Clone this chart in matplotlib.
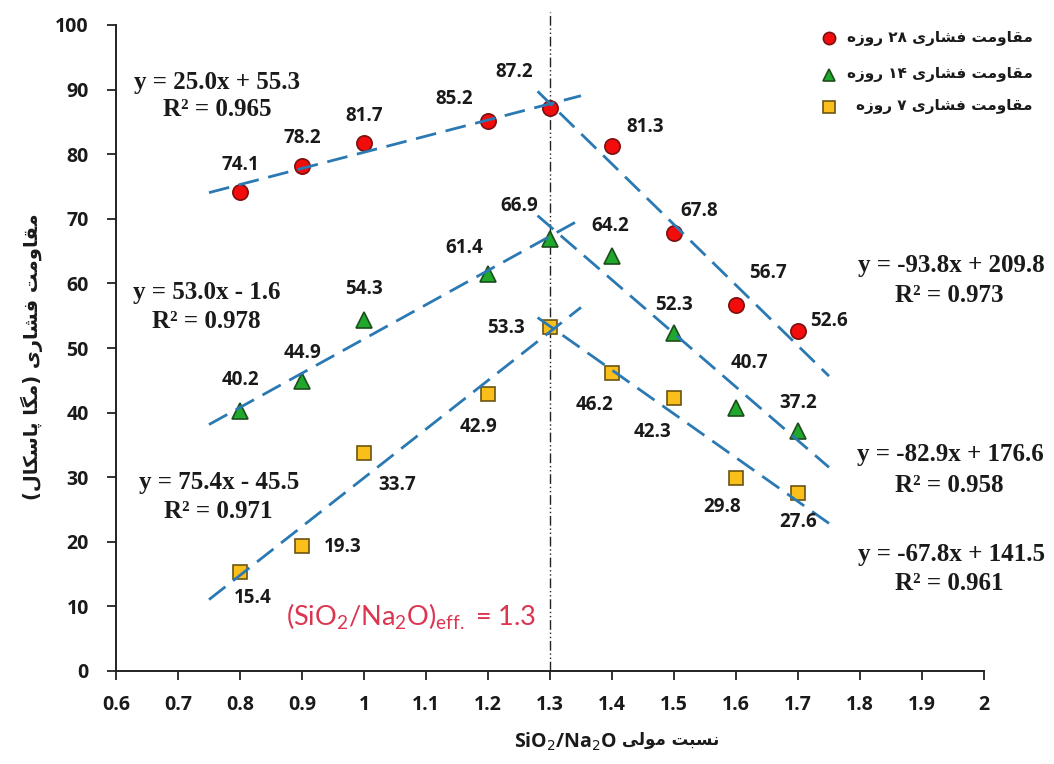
import matplotlib
matplotlib.use("Agg")
import matplotlib.pyplot as plt
from matplotlib.lines import Line2D
import numpy as np

# ---------------------------------------------------------------- data
ratio = [0.8, 0.9, 1.0, 1.2, 1.3, 1.4, 1.5, 1.6, 1.7]
strength_28 = [74.1, 78.2, 81.7, 85.2, 87.2, 81.3, 67.8, 56.7, 52.6]
strength_14 = [40.2, 44.9, 54.3, 61.4, 66.9, 64.2, 52.3, 40.7, 37.2]
strength_7 = [15.4, 19.3, 33.7, 42.9, 53.3, 46.2, 42.3, 29.8, 27.6]

# linear fits: (slope, intercept, R^2) for the rising and falling branches
rise_fit_28 = (25.0, 55.3, 0.965)
fall_fit_28 = (-93.8, 209.8, 0.973)
rise_fit_14 = (53.0, -1.6, 0.978)
fall_fit_14 = (-82.9, 176.6, 0.958)
rise_fit_7 = (75.4, -45.5, 0.971)
fall_fit_7 = (-67.8, 141.5, 0.961)
rise_span = (0.75, 1.35)
fall_span = (1.28, 1.75)
optimum_ratio = 1.3

legend_labels = ["مقاومت فشاری ۲۸ روزه", "مقاومت فشاری ۱۴ روزه", "مقاومت فشاری ۷ روزه"]
y_title = "مقاومت فشاری (مگا پاسکال)"
x_title_fa = "نسبت مولی"
x_title_en = "SiO$_2$/Na$_2$O"
x_ticks = [0.6, 0.7, 0.8, 0.9, 1.0, 1.1, 1.2, 1.3, 1.4, 1.5, 1.6, 1.7, 1.8, 1.9, 2.0]
x_tick_labels = ["0.6", "0.7", "0.8", "0.9", "1", "1.1", "1.2", "1.3", "1.4",
                 "1.5", "1.6", "1.7", "1.8", "1.9", "2"]
y_ticks = [0, 10, 20, 30, 40, 50, 60, 70, 80, 90, 100]

# value-label offsets (pixels) from each point
offsets_28 = [(0, 27), (0, 28), (0, 27), (-34, 22), (-36, 36), (33, 19), (25, 22), (32, 32), (31, 10)]
offsets_14 = [(0, 31), (0, 28), (0, 31), (-24, 26), (-31, 33), (-2, 30), (0, 28), (13, 45), (0, 28)]
offsets_7 = [(13, -26), (41, -1), (33, -32), (-9, -33), (-44, -1), (-18, -32), (-21, -34), (-14, -29), (0, -29)]

# ------------------------------------------------ Persian text shaping
_FORMS = {
    'ا': ('\uFE8D', '\uFE8E', None, None),
    'ب': ('\uFE8F', '\uFE90', '\uFE91', '\uFE92'),
    'پ': ('\uFB56', '\uFB57', '\uFB58', '\uFB59'),
    'ت': ('\uFE95', '\uFE96', '\uFE97', '\uFE98'),
    'ر': ('\uFEAD', '\uFEAE', None, None),
    'ز': ('\uFEAF', '\uFEB0', None, None),
    'س': ('\uFEB1', '\uFEB2', '\uFEB3', '\uFEB4'),
    'ش': ('\uFEB5', '\uFEB6', '\uFEB7', '\uFEB8'),
    'ف': ('\uFED1', '\uFED2', '\uFED3', '\uFED4'),
    'ق': ('\uFED5', '\uFED6', '\uFED7', '\uFED8'),
    'ک': ('\uFB8E', '\uFB8F', '\uFB90', '\uFB91'),
    'گ': ('\uFB92', '\uFB93', '\uFB94', '\uFB95'),
    'ل': ('\uFEDD', '\uFEDE', '\uFEDF', '\uFEE0'),
    'م': ('\uFEE1', '\uFEE2', '\uFEE3', '\uFEE4'),
    'ن': ('\uFEE5', '\uFEE6', '\uFEE7', '\uFEE8'),
    'و': ('\uFEED', '\uFEEE', None, None),
    'ه': ('\uFEE9', '\uFEEA', '\uFEEB', '\uFEEC'),
    'ی': ('\uFBFC', '\uFBFD', '\uFBFE', '\uFBFF'),
}
_MIRROR = {'(': ')', ')': '('}


def _dual(c):
    return c in _FORMS and _FORMS[c][2] is not None


def _is_ltr(c):
    return (c.isascii() and (c.isalnum() or c in "./")) or ('\u06F0' <= c <= '\u06F9')


def rtl(text):
    shaped = []
    for i, c in enumerate(text):
        if c not in _FORMS:
            shaped.append(c)
            continue
        prev = text[i - 1] if i > 0 else ''
        nxt = text[i + 1] if i + 1 < len(text) else ''
        jp = _dual(prev)
        jn = _dual(c) and nxt in _FORMS
        iso, fin, ini, med = _FORMS[c]
        shaped.append(med if (jp and jn) else fin if jp else ini if jn else iso)
    tokens, buf = [], ''
    for c in shaped:
        if _is_ltr(c):
            buf += c
        else:
            if buf:
                tokens.append(buf)
                buf = ''
            tokens.append(_MIRROR.get(c, c))
    if buf:
        tokens.append(buf)
    return ''.join(reversed(tokens))


# ---------------------------------------------------------------- style
W, H = 1054, 764
FA_FONT = ['DejaVu Sans']
NUM_FONT = ['Open Sans', 'DejaVu Sans']
EQ_FONT = ['Liberation Serif', 'DejaVu Serif']
TREND = '#2b79b3'
TEXT = '#1a1a1a'

series = [
    (strength_28, offsets_28, rise_fit_28, fall_fit_28,
     dict(marker='o', markersize=11, markerfacecolor='#f20c0c', markeredgecolor='#7a1010')),
    (strength_14, offsets_14, rise_fit_14, fall_fit_14,
     dict(marker='^', markersize=11.5, markerfacecolor='#1fa82b', markeredgecolor='#1d4d1d')),
    (strength_7, offsets_7, rise_fit_7, fall_fit_7,
     dict(marker='s', markersize=10.5, markerfacecolor='#fbbf1c', markeredgecolor='#6b5512')),
]


def fig_xy(px, py):
    return px / W, 1 - py / H


fig = plt.figure(figsize=(W / 100, H / 100), dpi=100)
ax = fig.add_axes([116 / W, (H - 671) / H, 868 / W, 646 / H])
ax.set_xlim(0.6, 2.0)
ax.set_ylim(0, 100)

for spine in ('top', 'right'):
    ax.spines[spine].set_visible(False)
for spine in ('left', 'bottom'):
    ax.spines[spine].set_linewidth(1.4)
    ax.spines[spine].set_color('#222222')

ax.set_xticks(x_ticks)
ax.set_xticklabels(x_tick_labels)
ax.set_yticks(y_ticks)
ax.tick_params(axis='both', direction='out', length=6.5, width=1.3, color='#222222',
               labelsize=14, labelcolor=TEXT)
ax.tick_params(axis='x', pad=11)
ax.tick_params(axis='y', pad=13)
for lab in ax.get_xticklabels() + ax.get_yticklabels():
    lab.set_fontfamily(NUM_FONT)
    lab.set_fontweight('bold')

# optimum ratio marker line
ax.plot([optimum_ratio, optimum_ratio], [0, 102], color='#222222', lw=1.0,
        linestyle=(0, (7, 2, 1, 2, 1, 2)), clip_on=False, zorder=2)

for values, offs, rise, fall, mstyle in series:
    ax.plot(ratio, values, linestyle='none', zorder=3, markeredgewidth=1.2, **mstyle)
    for x, v, (dx, dy) in zip(ratio, values, offs):
        ax.annotate(f"{v:.1f}", (x, v), xytext=(dx, dy), textcoords='offset pixels',
                    ha='center', va='center', fontsize=13.5, fontweight='bold',
                    family=NUM_FONT, color=TEXT, zorder=5)
    for (slope, icpt, _), span in ((rise, rise_span), (fall, fall_span)):
        xs = np.array(span)
        ax.plot(xs, slope * xs + icpt, color=TREND, lw=2.0,
                linestyle=(0, (7.5, 3.5)), zorder=4, solid_capstyle='butt')


def eq_text(slope, icpt):
    sign = '+' if icpt >= 0 else '-'
    return f"y = {slope:.1f}x {sign} {abs(icpt):.1f}"


equation_places = [
    (rise_fit_28, (217, 82), (217, 110)),
    (rise_fit_14, (207, 293), (206, 322)),
    (rise_fit_7, (219, 483), (218, 512)),
    (fall_fit_28, (951, 265), (949, 295)),
    (fall_fit_14, (950, 455), (949, 485)),
    (fall_fit_7, (951, 555), (949, 583)),
]
for (slope, icpt, r2), p_eq, p_r2 in equation_places:
    fig.text(*fig_xy(*p_eq), eq_text(slope, icpt), ha='center', va='center',
             fontsize=18, fontweight='bold', family=EQ_FONT, color=TEXT)
    fig.text(*fig_xy(*p_r2), f"R² = {r2:.3f}", ha='center', va='center',
             fontsize=18, fontweight='bold', family=EQ_FONT, color=TEXT)

# effective ratio note
fig.text(*fig_xy(411, 617),
         r"(SiO$_{\mathregular{2}}$/Na$_{\mathregular{2}}$O)$_{\mathregular{eff.}}$ = " + f"{optimum_ratio}",
         ha='center', va='center', fontsize=19.5, family=['Lato', 'DejaVu Sans'], color='#dc3550')

# legend (markers on the left, right-aligned Persian labels)
legend_rows = [38, 75, 107]
for (values, offs, rise, fall, mstyle), label, row in zip(series, legend_labels, legend_rows):
    fx, fy = fig_xy(829, row)
    fig.add_artist(Line2D([fx], [fy], transform=fig.transFigure, linestyle='none',
                          markeredgewidth=1.2, **{**mstyle, 'markersize': mstyle['markersize'] * 0.8}))
    fig.text(*fig_xy(1033, row), rtl(label), ha='right', va='center', fontsize=11,
             fontweight='bold', family=FA_FONT, color=TEXT)

# axis titles
fig.text(*fig_xy(32, 357), rtl(y_title), rotation=90, ha='center', va='center',
         fontsize=14, fontweight='bold', family=FA_FONT, color=TEXT)
fig.text(*fig_xy(617, 742), x_title_en, ha='right', va='center', fontsize=14,
         fontweight='bold', family=NUM_FONT, color=TEXT)
fig.text(*fig_xy(622, 740), rtl(x_title_fa), ha='left', va='center', fontsize=12,
         fontweight='bold', family=FA_FONT, color=TEXT)

fig.savefig('out.png', dpi=100, facecolor='white')
